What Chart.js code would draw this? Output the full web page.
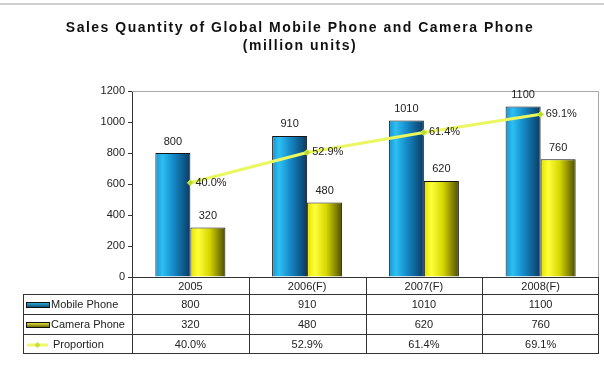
<!DOCTYPE html>
<html>
<head>
<meta charset="utf-8">
<title>Sales Quantity of Global Mobile Phone and Camera Phone</title>
<script src="https://cdn.jsdelivr.net/npm/chart.js@4.4.0/dist/chart.umd.min.js"></script>
<style>
    html, body { margin: 0; padding: 0; background: #fff; }
    #wrap { position: relative; width: 604px; height: 366px; }
    #wrap::before { content: ""; position: absolute; left: 0; right: 0; top: 3px; height: 2px; background: #cfcfcf; }
</style>
</head>
<body>
<div id="wrap"><canvas id="salesChart" width="604" height="366"></canvas></div>
<script>
// Data (million units, proportion in %)
const years = ['2005', '2006(F)', '2007(F)', '2008(F)'];
const mobilePhone = [800, 910, 1010, 1100];
const cameraPhone = [320, 480, 620, 760];
const proportion = [40.0, 52.9, 61.4, 69.1];
const seriesNames = ['Mobile Phone', 'Camera Phone', 'Proportion'];
const titleLines = ['Sales Quantity of Global Mobile Phone and Camera Phone', '(million units)'];
const qtyMax = 1200;
const qtyStep = 200;

const FONT = "'Liberation Sans', Arial, sans-serif";

const blueStops = [[0, '#1a94d0'], [0.2, '#2cc0f2'], [0.5, '#168ccb'], [1, '#0a3a62']];
const yellowStops = [[0, '#e2e200'], [0.22, '#ffff3a'], [0.55, '#d6d600'], [1, '#4c4c00']];

// horizontal gradient across one bar of the group
function barFill(stops, side) {
    return function (context) {
        const chart = context.chart;
        const area = chart.chartArea;
        if (!area || !chart.scales.x) return stops[2][1];
        const barW = (area.right - area.left) / years.length * 0.3;
        const center = chart.scales.x.getPixelForValue(context.dataIndex);
        const x0 = side === 0 ? center - barW : center;
        const g = chart.ctx.createLinearGradient(x0, 0, x0 + barW, 0);
        stops.forEach(s => g.addColorStop(s[0], s[1]));
        return g;
    };
}

// two-line bold title, letter spaced
const chartTitle = {
    id: 'chartTitle',
    beforeDraw(chart) {
        const ctx = chart.ctx;
        ctx.save();
        ctx.font = 'bold 14px ' + FONT;
        ctx.letterSpacing = '1.5px';
        ctx.fillStyle = '#111';
        ctx.textAlign = 'center';
        ctx.textBaseline = 'middle';
        ctx.fillText(titleLines[0], 300, 28);
        ctx.fillText(titleLines[1], 300, 46);
        ctx.restore();
    }
};

// grey frame on top and right of the plot
const plotFrame = {
    id: 'plotFrame',
    beforeDatasetsDraw(chart) {
        const { ctx, chartArea: a } = chart;
        ctx.save();
        ctx.strokeStyle = '#a8a8a8';
        ctx.lineWidth = 1;
        ctx.beginPath();
        ctx.moveTo(a.left, a.top + 0.5);
        ctx.lineTo(a.right - 0.5, a.top + 0.5);
        ctx.lineTo(a.right - 0.5, a.bottom);
        ctx.stroke();
        ctx.restore();
    }
};

// value labels over bars and next to the proportion points
const valueLabels = {
    id: 'valueLabels',
    afterDatasetsDraw(chart) {
        const ctx = chart.ctx;
        ctx.save();
        ctx.font = '11px ' + FONT;
        ctx.fillStyle = '#222';
        [0, 1].forEach(di => {
            const ds = chart.data.datasets[di];
            chart.getDatasetMeta(di).data.forEach((el, i) => {
                ctx.textAlign = 'center';
                ctx.textBaseline = 'bottom';
                ctx.fillText(String(ds.data[i]), el.x, el.y - 6);
            });
        });
        chart.getDatasetMeta(2).data.forEach((pt, i) => {
            ctx.textAlign = 'left';
            ctx.textBaseline = 'middle';
            ctx.fillText(proportion[i].toFixed(1) + '%', pt.x + 5, pt.y);
        });
        ctx.restore();
    }
};

// data table under the plot
const dataTable = {
    id: 'dataTable',
    afterDraw(chart) {
        const { ctx, chartArea: a, scales: { x } } = chart;
        const catW = (a.right - a.left) / years.length;
        const cols = years.map((_, i) => Math.round(a.left + i * catW)).concat(Math.round(a.right));
        const top = Math.round(a.bottom);
        const rows = [top, top + 17, top + 37, top + 57, top + 76];
        const left = 23;
        const px = v => v + 0.5;

        ctx.save();
        ctx.strokeStyle = '#333';
        ctx.lineWidth = 1;
        ctx.beginPath();
        ctx.moveTo(cols[0], px(rows[0]));
        ctx.lineTo(cols[cols.length - 1], px(rows[0]));
        for (let r = 1; r < rows.length; r++) {
            ctx.moveTo(left, px(rows[r]));
            ctx.lineTo(cols[cols.length - 1], px(rows[r]));
        }
        cols.forEach((c, i) => {
            const cx = i === cols.length - 1 ? c - 0.5 : px(c);
            ctx.moveTo(cx, rows[0]);
            ctx.lineTo(cx, rows[4] + 1);
        });
        ctx.moveTo(px(left), rows[1]);
        ctx.lineTo(px(left), rows[4] + 1);
        ctx.stroke();

        ctx.font = '11px ' + FONT;
        ctx.fillStyle = '#222';
        ctx.textAlign = 'center';
        ctx.textBaseline = 'middle';
        const mid = r => (rows[r] + rows[r + 1]) / 2 + 1;
        const cells = [
            years,
            mobilePhone.map(String),
            cameraPhone.map(String),
            proportion.map(v => v.toFixed(1) + '%')
        ];
        cells.forEach((row, r) => {
            row.forEach((txt, i) => ctx.fillText(txt, x.getPixelForValue(i), mid(r)));
        });

        // series keys in the first column
        ctx.textAlign = 'left';
        const keys = [[blueStops, 1], [yellowStops, 2]];
        keys.forEach(([stops, r]) => {
            const y = Math.round(mid(r)) - 3;
            const g = ctx.createLinearGradient(0, y, 0, y + 6);
            g.addColorStop(0, stops[1][1]);
            g.addColorStop(1, stops[3][1]);
            ctx.fillStyle = g;
            ctx.fillRect(26, y, 24, 6);
            ctx.strokeStyle = '#111';
            ctx.strokeRect(26.5, y + 0.5, 23, 5);
        });
        const ly = Math.round(mid(3));
        ctx.strokeStyle = '#eef86a';
        ctx.lineWidth = 3;
        ctx.beginPath();
        ctx.moveTo(27, ly);
        ctx.lineTo(48, ly);
        ctx.stroke();
        ctx.fillStyle = '#c4e23a';
        ctx.beginPath();
        ctx.moveTo(37.5, ly - 3); ctx.lineTo(40.5, ly); ctx.lineTo(37.5, ly + 3); ctx.lineTo(34.5, ly);
        ctx.fill();

        ctx.fillStyle = '#222';
        ctx.fillText(seriesNames[0], 51, mid(1));
        ctx.fillText(seriesNames[1], 51, mid(2));
        ctx.fillText(seriesNames[2], 53, mid(3));
        ctx.restore();
    }
};

new Chart(document.getElementById('salesChart'), {
    data: {
        labels: years,
        datasets: [
            {
                type: 'bar',
                label: seriesNames[0],
                data: mobilePhone,
                backgroundColor: barFill(blueStops, 0),
                borderColor: '#151515',
                borderWidth: 1,
                order: 1
            },
            {
                type: 'bar',
                label: seriesNames[1],
                data: cameraPhone,
                backgroundColor: barFill(yellowStops, 1),
                borderColor: '#151515',
                borderWidth: 1,
                order: 1
            },
            {
                type: 'line',
                label: seriesNames[2],
                data: proportion,
                yAxisID: 'y1',
                borderColor: '#eaf760',
                borderWidth: 3,
                pointStyle: 'rectRot',
                pointRadius: 3,
                pointBackgroundColor: '#b8dc30',
                pointBorderColor: '#d8ee40',
                pointBorderWidth: 1,
                order: 0
            }
        ]
    },
    options: {
        responsive: false,
        animation: false,
        categoryPercentage: 0.6,
        barPercentage: 1,
        layout: { padding: { left: 0, right: 4, top: 91, bottom: 89 } },
        plugins: {
            legend: { display: false },
            tooltip: { enabled: false },
            title: { display: false }
        },
        scales: {
            x: {
                type: 'category',
                display: false,
                offset: true
            },
            y: {
                min: 0,
                max: qtyMax,
                afterFit(scale) { scale.width = 132; },
                ticks: {
                    stepSize: qtyStep,
                    padding: 3,
                    color: '#222',
                    font: { family: FONT, size: 11 },
                    callback: value => String(value)
                },
                grid: { drawOnChartArea: false, tickLength: 4, color: '#333' },
                border: { color: '#333' }
            },
            y1: {
                display: false,
                position: 'right',
                min: 0,
                max: 79
            }
        }
    },
    plugins: [chartTitle, plotFrame, valueLabels, dataTable]
});
</script>
</body>
</html>
